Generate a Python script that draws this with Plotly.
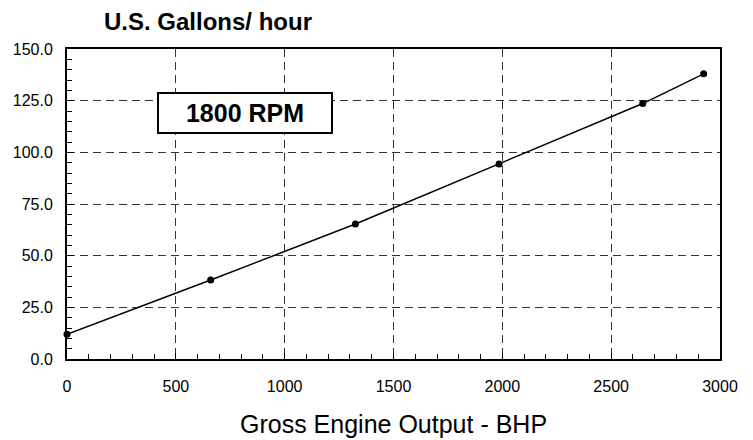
import plotly.graph_objects as go

bhp = [0, 660, 1325, 1985, 2645, 2925]
gph = [12.0, 38.2, 65.3, 94.4, 123.6, 138.0]
x_ticks = [0, 500, 1000, 1500, 2000, 2500, 3000]
y_ticks = [0, 25, 50, 75, 100, 125, 150]
y_labels = [f"{v:.1f}" for v in y_ticks]

fig = go.Figure()
fig.add_trace(go.Scatter(
    x=bhp, y=gph, mode="lines+markers",
    line=dict(color="black", width=1.5),
    marker=dict(color="black", size=7),
    showlegend=False, cliponaxis=False,
))

grid = dict(showgrid=True, gridcolor="#333333", gridwidth=1, griddash="8px,5px")
fig.update_xaxes(
    range=[0, 3000], tickvals=x_ticks, ticktext=[str(v) for v in x_ticks],
    showline=True, linecolor="black", linewidth=2, mirror=True,
    ticks="inside", ticklen=6, tickcolor="black", ticklabelstandoff=12,
    minor=dict(ticks="inside", dtick=100, ticklen=5, tickcolor="black", showgrid=False),
    zeroline=False, automargin=False,
    tickfont=dict(size=16, color="black"),
    **grid,
)
fig.update_yaxes(
    range=[0, 150], tickvals=y_ticks, ticktext=y_labels,
    showline=True, linecolor="black", linewidth=2, mirror=True,
    ticks="inside", ticklen=6, tickcolor="black", ticklabelstandoff=9,
    minor=dict(ticks="inside", dtick=5, ticklen=5, tickcolor="black", showgrid=False),
    zeroline=False, automargin=False,
    tickfont=dict(size=16, color="black"),
    **grid,
)

fig.add_annotation(
    x=819, y=118.8, xref="x", yref="y", text="<b>1800 RPM</b>", showarrow=False,
    font=dict(size=25, color="black"), bgcolor="white",
    bordercolor="black", borderwidth=2, borderpad=2, width=168, height=34,
)
fig.add_annotation(
    x=0.053, y=1.0, xref="paper", yref="paper", yshift=28, xanchor="left", yanchor="middle",
    text="<b>U.S. Gallons/ hour</b>", showarrow=False, font=dict(size=24, color="black"),
)
fig.add_annotation(
    x=0.5, y=0.0, xref="paper", yref="paper", yshift=-65, xanchor="center", yanchor="middle",
    text="Gross Engine Output - BHP", showarrow=False, font=dict(size=25, color="black"),
)

# page body adds an 8px offset; plot area spans x 67..720, y 49..359 on screen
fig.update_layout(
    width=745, height=432,
    margin=dict(l=59, r=33, t=41, b=81, autoexpand=False),
    paper_bgcolor="white", plot_bgcolor="white",
    font=dict(family="Liberation Sans, Arial, sans-serif", color="black"),
)
fig.write_html("out.html")
